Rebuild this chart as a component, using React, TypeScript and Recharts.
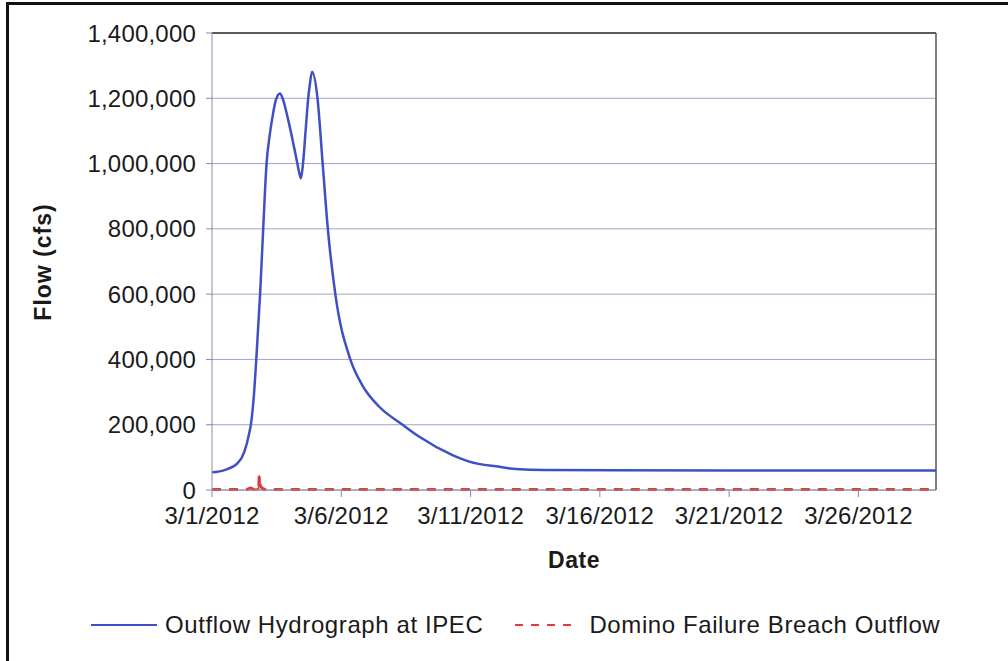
import React from "react";
import { LineChart, Line, XAxis, YAxis, CartesianGrid, ReferenceLine } from "recharts";

const flowDays = [
  0, 0.48, 0.99, 1.25, 1.44, 1.51, 1.62, 1.72, 1.86, 1.98, 2.11, 2.22, 2.34, 2.47, 2.63, 2.75,
  2.92, 3.25, 3.38, 3.44, 3.52, 3.62, 3.72, 3.78, 3.87, 4.08, 4.28, 4.48, 4.77, 5.35, 5.82,
  6.47, 7.37, 8.02, 9.3, 9.95, 11.11, 11.76, 12.85, 20, 28,
];
const flowCfs = [
  54000, 61000, 82000, 117000, 174000, 204000, 290000, 410000, 600000, 800000, 1000000, 1080000,
  1143000, 1195000, 1215000, 1195000, 1143000, 1021000, 970000, 955000, 1000000, 1100000, 1200000,
  1240000, 1281000, 1200000, 1000000, 800000, 600000, 400000, 320000, 255000, 200000,
  163000, 107000, 87000, 71000, 64000, 61000, 60000, 60000,
];

const breachDays = [0, 1.3, 1.5, 1.62, 1.8, 1.83, 1.86, 1.95, 2.1, 28];
const breachCfs = [1500, 1500, 6000, 1500, 3000, 43000, 15000, 5000, 1500, 1500];

const dateTicks = [0, 5, 10, 15, 20, 25];
const dateLabels = ["3/1/2012", "3/6/2012", "3/11/2012", "3/16/2012", "3/21/2012", "3/26/2012"];
const flowTicks = [0, 200000, 400000, 600000, 800000, 1000000, 1200000, 1400000];

const BLUE = "#3f4fc4";
const RED = "#e23a3a";
const FONT = "'Liberation Sans', Arial, sans-serif";

const flowData = flowDays.map((d, i) => ({ day: d, flow: flowCfs[i] }));
const breachData = breachDays.map((d, i) => ({ day: d, breach: breachCfs[i] }));
// the little spike near 3/2 reads as a solid stroke in the original
const spikeData = breachData.slice(3, 9);

const tickStyle = { fontSize: 24, fill: "#1a1a1a", fontFamily: FONT, letterSpacing: 0.2 };

export default function App() {
  return (
    <div
      style={{
        position: "absolute",
        left: 0,
        top: 0,
        width: 1008,
        height: 661,
        background: "#fff",
        overflow: "hidden",
        fontFamily: FONT,
      }}
    >
      {/* outer frame, clipped at right/bottom */}
      <div
        style={{
          position: "absolute",
          left: 6,
          top: 2,
          width: 1100,
          height: 800,
          borderTop: "3px solid #111",
          borderLeft: "3px solid #111",
        }}
      />

      <LineChart width={1008} height={661} margin={{ top: 33, right: 72, bottom: 111, left: 72 }}>
        <CartesianGrid vertical={false} stroke="#a4a4c8" strokeWidth={1} />
        <XAxis
          type="number"
          dataKey="day"
          domain={[0, 28]}
          ticks={dateTicks}
          tickFormatter={(v: number) => dateLabels[dateTicks.indexOf(v)] ?? ""}
          stroke="#8a8a9a"
          tickSize={7}
          tickMargin={10}
          height={60}
          tick={tickStyle}
          allowDataOverflow
        />
        <YAxis
          type="number"
          domain={[0, 1400000]}
          ticks={flowTicks}
          tickFormatter={(v: number) => v.toLocaleString("en-US")}
          stroke="#8a8aaa"
          width={140}
          tickSize={6}
          tickMargin={10}
          tick={tickStyle}
        />
        <ReferenceLine y={1400000} stroke="#333" strokeWidth={1.5} />
        <ReferenceLine x={28} stroke="#555" strokeWidth={1.5} />
        <Line
          data={breachData}
          dataKey="breach"
          type="monotone"
          stroke={RED}
          strokeWidth={3}
          strokeDasharray="9 8"
          dot={false}
          isAnimationActive={false}
        />
        <Line
          data={spikeData}
          dataKey="breach"
          type="monotone"
          stroke={RED}
          strokeWidth={2}
          dot={false}
          legendType="none"
          isAnimationActive={false}
        />
        <Line
          data={flowData}
          dataKey="flow"
          type="monotone"
          stroke={BLUE}
          strokeWidth={2.5}
          dot={false}
          isAnimationActive={false}
        />
      </LineChart>

      {/* axis titles */}
      <div
        style={{
          position: "absolute",
          left: 43,
          top: 262,
          transform: "translate(-50%, -50%) rotate(-90deg)",
          fontWeight: "bold",
          fontSize: 23,
          letterSpacing: 1,
          whiteSpace: "nowrap",
          color: "#1a1a1a",
        }}
      >
        Flow (cfs)
      </div>
      <div
        style={{
          position: "absolute",
          left: 574,
          top: 560,
          transform: "translate(-50%, -50%)",
          fontWeight: "bold",
          fontSize: 23,
          letterSpacing: 0.5,
          color: "#1a1a1a",
        }}
      >
        Date
      </div>

      {/* legend */}
      <div
        style={{
          position: "absolute",
          left: 91,
          top: 611,
          display: "flex",
          alignItems: "center",
          fontSize: 24,
          letterSpacing: 0.6,
          color: "#1a1a1a",
          whiteSpace: "nowrap",
        }}
      >
        <svg width={66} height={10} style={{ marginRight: 8 }}>
          <line x1={0} y1={5} x2={66} y2={5} stroke={BLUE} strokeWidth={2} />
        </svg>
        <span>Outflow Hydrograph at IPEC</span>
        <svg width={62} height={10} style={{ marginLeft: 32, marginRight: 12 }}>
          <line x1={0} y1={5} x2={62} y2={5} stroke={RED} strokeWidth={2} strokeDasharray="8 8" />
        </svg>
        <span>Domino Failure Breach Outflow</span>
      </div>
    </div>
  );
}
